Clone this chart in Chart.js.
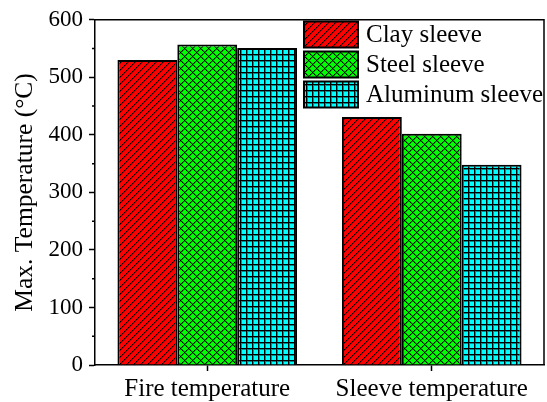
<!DOCTYPE html>
<html>
<head>
<meta charset="utf-8">
<script src="https://cdn.jsdelivr.net/npm/chart.js@4.4.0/dist/chart.umd.min.js"></script>
<style>
    html, body { margin: 0; padding: 0; background: #ffffff; }
</style>
</head>
<body>
<canvas id="tempChart" width="547" height="402"></canvas>
<script>
const categories = ['Fire temperature', 'Sleeve temperature'];
const seriesNames = ['Clay sleeve', 'Steel sleeve', 'Aluminum sleeve'];
const clayValues = [530, 431];
const steelValues = [557, 402];
const aluminumValues = [551, 348];
const yTicks = [0, 100, 200, 300, 400, 500, 600];
const yMinorTicks = [50, 150, 250, 350, 450, 550];

const serif = '"Liberation Serif", "Times New Roman", serif';
const canvas = document.getElementById('tempChart');
const ctx = canvas.getContext('2d');

// small tiles for the hatch fills: ink() returns a colour or null
function makePattern(size, bg, ink) {
    const tile = document.createElement('canvas');
    tile.width = size;
    tile.height = size;
    const g = tile.getContext('2d');
    g.fillStyle = bg;
    g.fillRect(0, 0, size, size);
    for (let x = 0; x < size; x++) {
        for (let y = 0; y < size; y++) {
            const c = ink(x, y);
            if (c) {
                g.fillStyle = c;
                g.fillRect(x, y, 1, 1);
            }
        }
    }
    return ctx.createPattern(tile, 'repeat');
}

const redHatch = makePattern(7, '#ff0000', (x, y) => {
    const k = (x + y) % 7;
    return k === 0 ? '#000000' : (k === 1 ? '#a00000' : null);
});
const greenCross = makePattern(8, '#00ff00', (x, y) => {
    const a = (x + y) % 8, b = (x - y + 8) % 8;
    if (a === 0 || b === 0) return '#000000';
    if (a === 1 || b === 1) return '#00a000';
    return null;
});
const cyanGrid = makePattern(6, '#00ffff', (x, y) => {
    if (x % 6 === 0 || y % 6 === 0) return '#000000';
    if (x % 6 === 1 || y % 6 === 1) return '#008c8c';
    return null;
});

// frame, minor ticks and legend drawn on top
const extrasPlugin = {
    id: 'extras',
    afterDraw(chart) {
        const { ctx, chartArea: area, scales } = chart;
        ctx.save();
        ctx.strokeStyle = '#000000';
        ctx.lineWidth = 1.5;

        ctx.beginPath();
        ctx.moveTo(area.left, area.top);
        ctx.lineTo(area.right, area.top);
        ctx.lineTo(area.right, area.bottom);
        ctx.stroke();

        ctx.beginPath();
        yMinorTicks.forEach(v => {
            const y = scales.y.getPixelForValue(v);
            ctx.moveTo(area.left, y);
            ctx.lineTo(area.left - 3, y);
        });
        ctx.stroke();

        const boxX = 304, boxW = 54, boxH = 26, pitch = 30;
        let top = 21.5;
        ctx.font = '25px ' + serif;
        ctx.textBaseline = 'middle';
        ctx.textAlign = 'left';
        chart.data.datasets.forEach(ds => {
            ctx.fillStyle = ds.backgroundColor;
            ctx.fillRect(boxX, top, boxW, boxH);
            ctx.lineWidth = 2;
            ctx.strokeRect(boxX, top, boxW, boxH);
            ctx.fillStyle = '#000000';
            ctx.fillText(ds.label, 366, top + boxH / 2 + 1);
            top += pitch;
        });
        ctx.restore();
    }
};

new Chart(ctx, {
    type: 'bar',
    data: {
        labels: categories,
        datasets: [
            { label: seriesNames[0], data: clayValues, backgroundColor: redHatch },
            { label: seriesNames[1], data: steelValues, backgroundColor: greenCross },
            { label: seriesNames[2], data: aluminumValues, backgroundColor: cyanGrid }
        ]
    },
    options: {
        responsive: false,
        animation: false,
        layout: { padding: { top: 18, right: 3, left: 0, bottom: 0 } },
        datasets: {
            bar: {
                borderColor: '#000000',
                borderWidth: 2,
                categoryPercentage: 0.8,
                barPercentage: 1.0
            }
        },
        plugins: {
            legend: { display: false },
            tooltip: { enabled: false }
        },
        scales: {
            x: {
                grid: {
                    offset: false,
                    drawOnChartArea: false,
                    tickLength: 6,
                    tickColor: '#000000',
                    tickWidth: 1.5
                },
                border: { color: '#000000', width: 1.5 },
                ticks: {
                    color: '#000000',
                    padding: 3,
                    font: { family: serif, size: 25 }
                },
                afterFit(scale) { scale.height = 37; }
            },
            y: {
                min: 0,
                max: 600,
                afterBuildTicks(scale) { scale.ticks = yTicks.map(v => ({ value: v })); },
                grid: {
                    drawOnChartArea: false,
                    tickLength: 6,
                    tickColor: '#000000',
                    tickWidth: 1.5
                },
                border: { color: '#000000', width: 1.5 },
                ticks: {
                    color: '#000000',
                    padding: 6,
                    font: { family: serif, size: 23 }
                },
                title: {
                    display: true,
                    text: 'Max. Temperature (°C)',
                    color: '#000000',
                    padding: { top: 10, bottom: 0 },
                    font: { family: serif, size: 25.5 }
                },
                afterFit(scale) { scale.width = 95; }
            }
        }
    },
    plugins: [extrasPlugin]
});
</script>
</body>
</html>
